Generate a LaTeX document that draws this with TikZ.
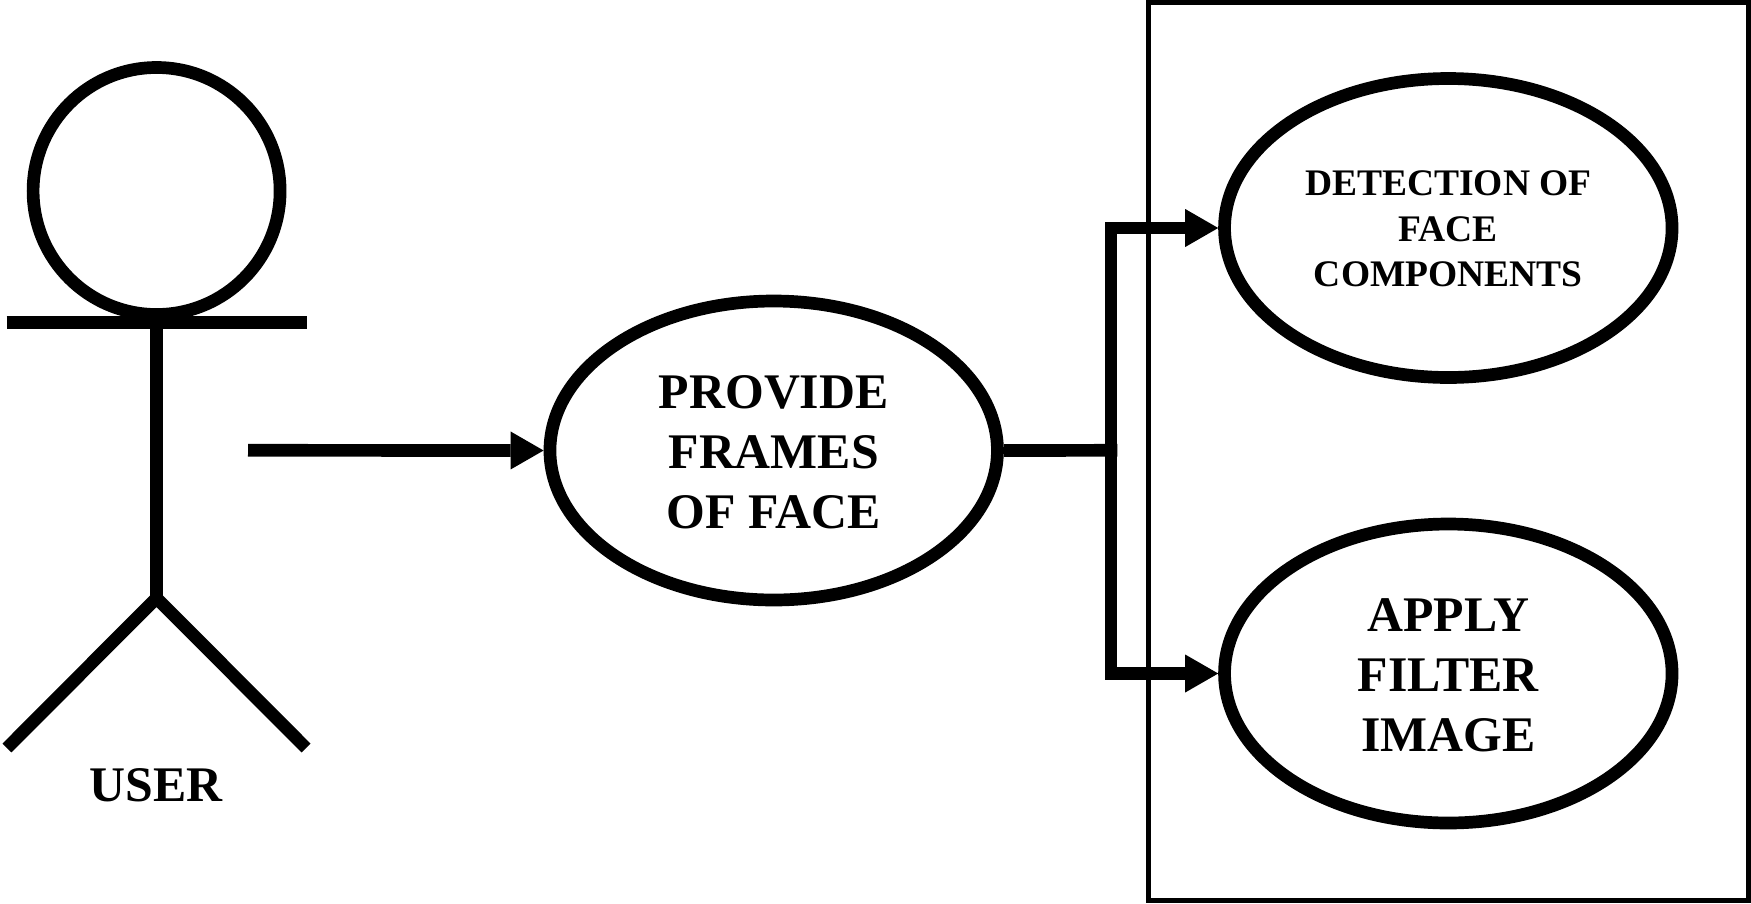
\documentclass[tikz,border=0pt]{standalone}
\usepackage{fontspec}
\setmainfont{Liberation Serif}
\usetikzlibrary{shapes.geometric,arrows.meta}
\tikzset{
  heavy/.style={line width=12.7pt,line cap=butt,line join=miter},
  shoulder/.style={line width=13pt,line cap=butt},
  usecase/.style={draw,ellipse,line width=12.7pt,minimum width=447.5pt,minimum height=299pt,inner sep=0pt},
  bigtext/.style={font=\bfseries\fontsize{49.8}{60}\selectfont,align=center},
  smalltext/.style={font=\bfseries\fontsize{37.5}{45.5}\selectfont,align=center},
  flow/.style={line width=12.7pt,line join=miter,-{Triangle[length=33pt,width=38pt,line width=0pt]}}
}
\begin{document}
\begin{tikzpicture}[x=1pt,y=-1pt]
\useasboundingbox (0,0) rectangle (1751,903);
\node[draw,line width=5pt,minimum width=600.5pt,minimum height=898pt,inner sep=0pt] (box) at (1448.7,451) {};
\node[draw,circle,line width=12.7pt,minimum size=247pt,inner sep=0pt] (head) at (156.6,191) {};
\coordinate (shl) at (6.5,322);
\coordinate (shr) at (306.5,322);
\coordinate (neck) at (156.5,322);
\coordinate (hip) at (156.5,598);
\coordinate (footl) at (7,748);
\coordinate (footr) at (306,748);
\draw[shoulder] (shl) -- (shr);
\draw[heavy] (neck) -- (hip);
\draw[heavy] (footl) -- (hip) -- (footr);
\node[bigtext] (user) at (156,785) {USER};
\node[usecase] (provide) at (773.7,450.5) {};
\node[bigtext] (providetext) at (773.7,452) {PROVIDE\\FRAMES\\OF FACE};
\node[usecase] (detect) at (1448.3,228) {};
\node[smalltext] (detecttext) at (1448.3,229) {DETECTION OF\\FACE\\COMPONENTS};
\node[usecase] (apply) at (1448.3,673.5) {};
\node[bigtext] (applytext) at (1448.3,675.5) {APPLY\\FILTER\\IMAGE};
\coordinate (start) at (248,450.3);
\coordinate (branch) at (1111,450.3);
\draw[flow] (start) -- (provide.west);
\draw[heavy] (provide.east) -- ([xshift=6.3pt]branch);
\draw[flow] (branch) |- (detect.west);
\draw[flow] (branch) |- (apply.west);
\end{tikzpicture}
\end{document}
